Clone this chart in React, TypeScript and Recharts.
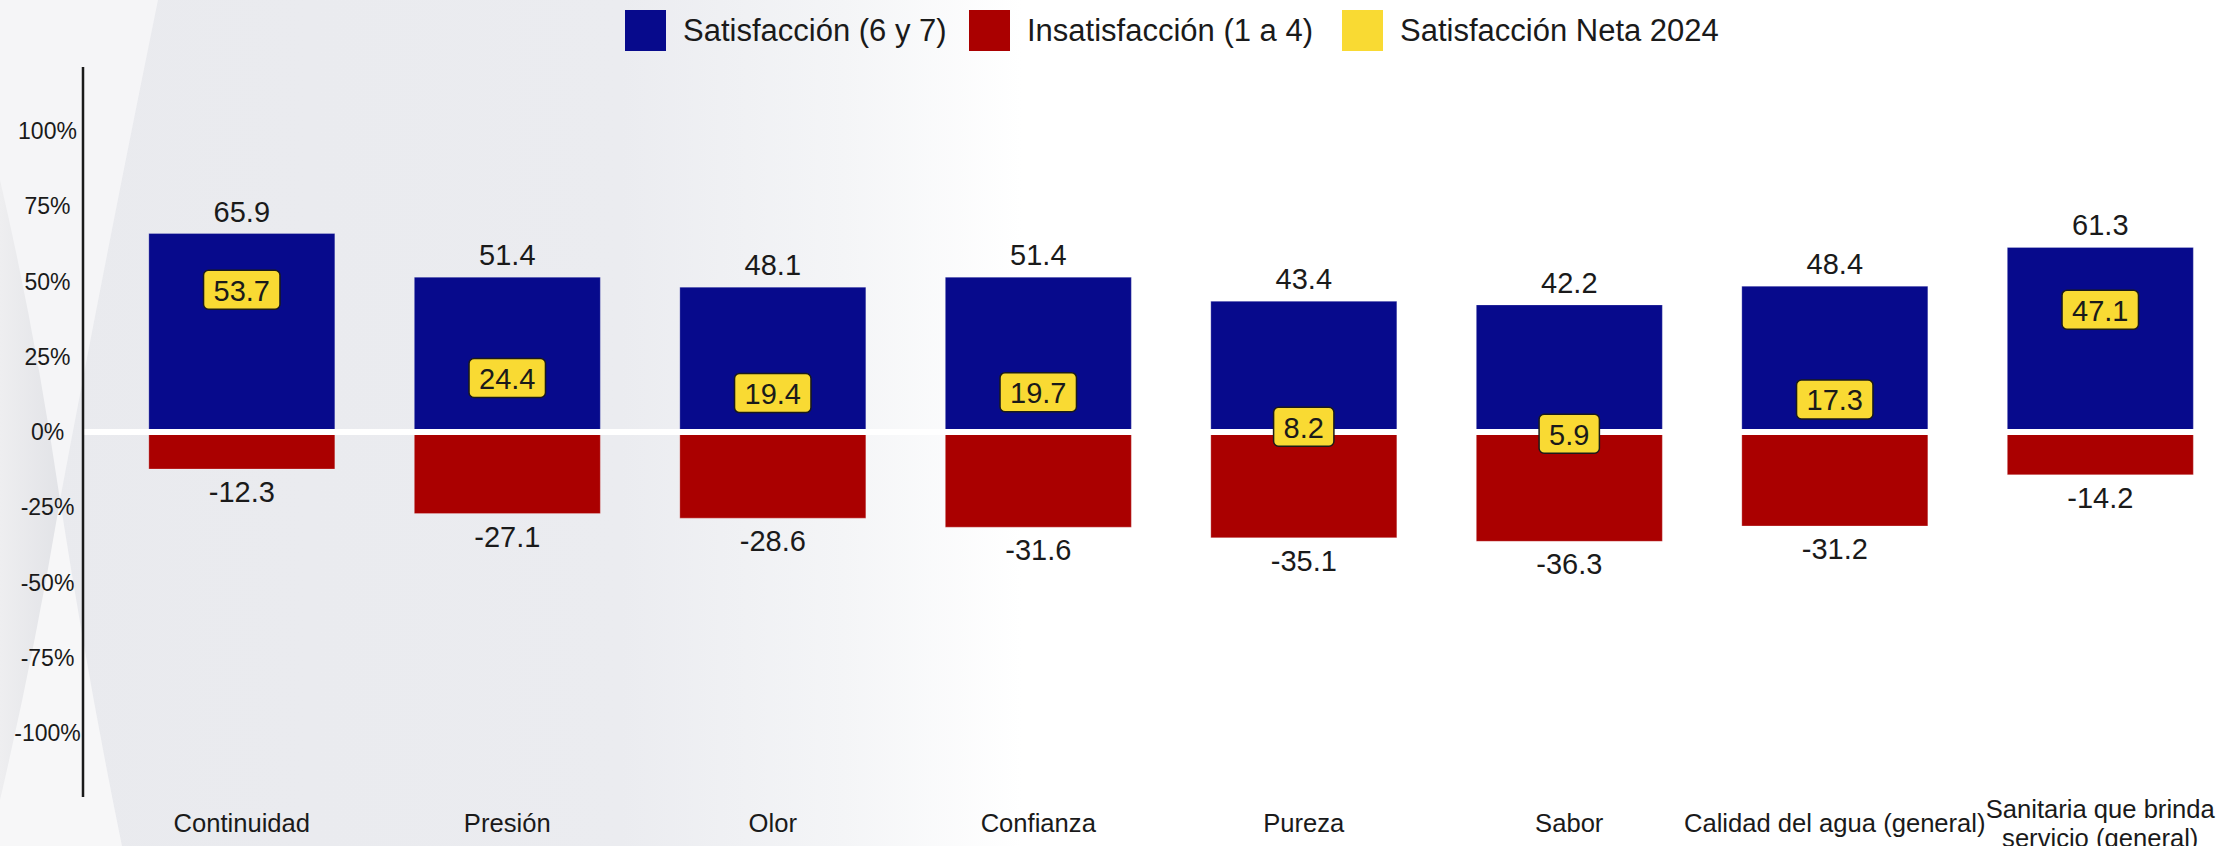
import React from 'react';
import { ComposedChart, Bar, Line, XAxis, YAxis, ReferenceLine, LabelList, Legend } from 'recharts';

const categories = [
  'Continuidad',
  'Presión',
  'Olor',
  'Confianza',
  'Pureza',
  'Sabor',
  'Calidad del agua (general)',
  'Sanitaria que brinda\nservicio (general)',
];
const satisfaccion = [65.9, 51.4, 48.1, 51.4, 43.4, 42.2, 48.4, 61.3];
const insatisfaccion = [-12.3, -27.1, -28.6, -31.6, -35.1, -36.3, -31.2, -14.2];
const netaValues = [53.7, 24.4, 19.4, 19.7, 8.2, 5.9, 17.3, 47.1];
const yTicks = [-100, -75, -50, -25, 0, 25, 50, 75, 100];

const legendLabels = ['Satisfacción (6 y 7)', 'Insatisfacción (1 a 4)', 'Satisfacción Neta 2024'];

const BLUE = '#070a8c';
const RED = '#aa0000';
const YELLOW = '#f9da33';
const TEXT = '#1a1a1a';
const FONT = '"Liberation Sans", Arial, sans-serif';

const legendColors = [BLUE, RED, YELLOW];
const legendWidths = [344, 373, 400];

const data = categories.map((name, i) => ({
  name,
  sat: satisfaccion[i],
  insat: insatisfaccion[i],
  neta: netaValues[i],
}));

const YTick = ({ y, payload }: any) => (
  <text x={47.5} y={y + 8.2} textAnchor="middle" fontSize={23} fill={TEXT} fontFamily={FONT}>
    {`${payload.value}%`}
  </text>
);

const XTick = ({ x, payload }: any) => {
  const lines = String(payload.value).split('\n');
  const first = 832 - ((lines.length - 1) * 29) / 2;
  return (
    <text textAnchor="middle" fontSize={25.6} fill={TEXT} fontFamily={FONT}>
      {lines.map((l, i) => (
        <tspan key={i} x={x} y={first + i * 29}>
          {l}
        </tspan>
      ))}
    </text>
  );
};

const topLabel = (props: any) => {
  const { x, y, width, height, value } = props;
  const top = Math.min(y, y + height);
  return (
    <text x={x + width / 2} y={top - 12} textAnchor="middle" fontSize={29} fill={TEXT} fontFamily={FONT}>
      {Number(value).toFixed(1)}
    </text>
  );
};

const bottomLabel = (props: any) => {
  const { x, y, width, height, value } = props;
  const bottom = Math.max(y, y + height);
  return (
    <text x={x + width / 2} y={bottom + 33} textAnchor="middle" fontSize={29} fill={TEXT} fontFamily={FONT}>
      {Number(value).toFixed(1)}
    </text>
  );
};

const NetBox = ({ cx, cy, value, index }: any) => {
  const txt = Number(value).toFixed(1);
  const em = txt.split('').reduce((s, c) => s + (c === '.' ? 0.278 : 0.556), 0);
  const w = em * 29 + 20;
  return (
    <g key={`net-${index}`}>
      <rect x={cx - w / 2} y={cy} width={w} height={39} rx={5} ry={5} fill={YELLOW} stroke={TEXT} strokeWidth={1.5} />
      <text x={cx} y={cy + 30.5} textAnchor="middle" fontSize={29} fill={TEXT} fontFamily={FONT}>
        {txt}
      </text>
    </g>
  );
};

const renderLegend = () => (
  <div style={{ display: 'flex', fontFamily: FONT }}>
    {legendLabels.map((label, i) => (
      <div key={label} style={{ display: 'flex', alignItems: 'center', width: legendWidths[i], height: 41 }}>
        <div style={{ width: 41, height: 41, background: legendColors[i], marginRight: 17 }} />
        <span style={{ fontSize: 31, color: TEXT, lineHeight: 1, whiteSpace: 'nowrap' }}>{label}</span>
      </div>
    ))}
  </div>
);

// decorative slide background (gray with light swoosh on the left, fading to white on the right)
const Background = () => (
  <svg width={2221} height={846} style={{ position: 'absolute', left: 0, top: 0 }}>
    <defs>
      <linearGradient id="bg" x1="0" y1="0" x2="1" y2="0">
        <stop offset="0" stopColor="#e9eaee" />
        <stop offset="0.28" stopColor="#ebecf0" />
        <stop offset="0.38" stopColor="#f4f5f7" />
        <stop offset="0.46" stopColor="#ffffff" />
        <stop offset="1" stopColor="#ffffff" />
      </linearGradient>
      <linearGradient id="shade" x1="0" y1="0" x2="1" y2="0">
        <stop offset="0" stopColor="#eeeef0" />
        <stop offset="1" stopColor="#e2e3e7" />
      </linearGradient>
    </defs>
    <rect x={0} y={0} width={2221} height={846} fill="url(#bg)" />
    <path d="M0,0 L158,0 Q105,260 60,500 L0,500 Z" fill="#f5f5f7" />
    <path d="M0,500 L60,500 Q88,680 122,846 L0,846 Z" fill="#f7f7f8" />
    <path d="M0,180 Q35,330 60,500 Q35,650 0,800 Z" fill="url(#shade)" />
  </svg>
);

export default function App() {
  return (
    <div
      style={{
        position: 'fixed',
        left: 0,
        top: 0,
        width: 2221,
        height: 846,
        overflow: 'hidden',
        fontFamily: FONT,
        background: '#fff',
      }}
    >
      <Background />
      <div style={{ position: 'absolute', left: 0, top: 0 }}>
        <ComposedChart
          width={2240}
          height={846}
          data={data}
          stackOffset="sign"
          barCategoryGap="15%"
          margin={{ top: 67, right: 7, bottom: 0, left: 0 }}
        >
          <XAxis
            dataKey="name"
            height={49}
            axisLine={false}
            tickLine={false}
            interval={0}
            padding={{ left: 26, right: 0 }}
            tick={<XTick />}
          />
          <YAxis
            width={83}
            domain={[-121.2, 121.2]}
            ticks={yTicks}
            allowDataOverflow
            tickLine={false}
            axisLine={{ stroke: TEXT, strokeWidth: 2.5 }}
            tick={<YTick />}
          />
          <Legend
            layout="horizontal"
            verticalAlign="middle"
            align="center"
            wrapperStyle={{ top: 10, left: 625, width: 1300 }}
            content={renderLegend}
          />
          <Bar dataKey="sat" stackId="s" fill={BLUE} stroke="rgba(255,255,255,0.25)" strokeWidth={1} isAnimationActive={false}>
            <LabelList dataKey="sat" content={topLabel} />
          </Bar>
          <Bar dataKey="insat" stackId="s" fill={RED} stroke="rgba(255,255,255,0.25)" strokeWidth={1} isAnimationActive={false}>
            <LabelList dataKey="insat" content={bottomLabel} />
          </Bar>
          <ReferenceLine y={0} stroke="#ffffff" strokeWidth={6} />
          <Line
            dataKey="neta"
            stroke="none"
            dot={(p: any) => <NetBox key={`nb-${p.index}`} {...p} />}
            activeDot={false}
            isAnimationActive={false}
          />
        </ComposedChart>
      </div>
    </div>
  );
}
